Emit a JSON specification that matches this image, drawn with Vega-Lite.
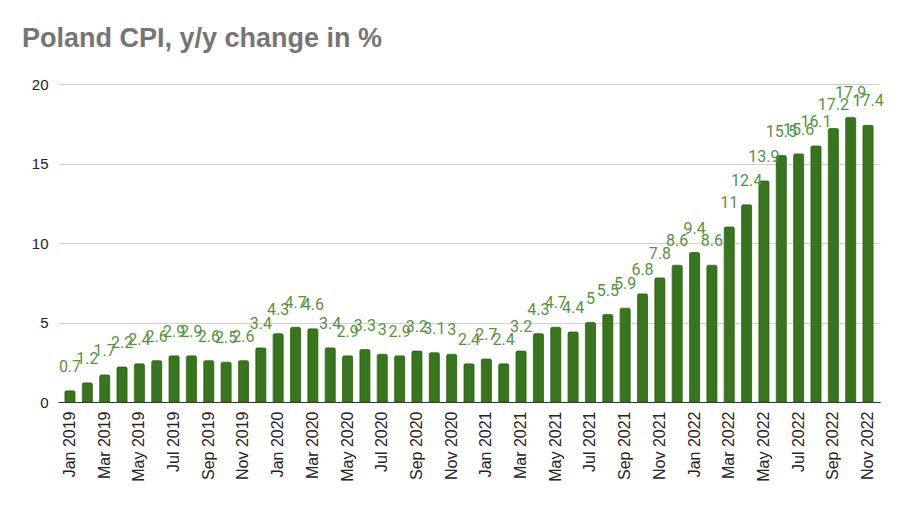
{
  "$schema": "https://vega.github.io/schema/vega-lite/v6.json",
  "width": 822,
  "height": 318,
  "autosize": {"type": "none"},
  "padding": {"left": 58, "top": 84, "right": 20, "bottom": 108},
  "background": "white",
  "view": {"stroke": null},
  "title": {
    "text": "Poland CPI, y/y change in %",
    "anchor": "start",
    "frame": "group",
    "dx": -36,
    "offset": 3,
    "baseline": "alphabetic",
    "font": "Liberation Sans",
    "fontSize": 27,
    "fontWeight": "bold",
    "color": "#757575"
  },
  "data": {
    "values": [
      {"month": "Jan 2019", "cpi": 0.7}, {"month": "Feb 2019", "cpi": 1.2},
      {"month": "Mar 2019", "cpi": 1.7}, {"month": "Apr 2019", "cpi": 2.2},
      {"month": "May 2019", "cpi": 2.4}, {"month": "Jun 2019", "cpi": 2.6},
      {"month": "Jul 2019", "cpi": 2.9}, {"month": "Aug 2019", "cpi": 2.9},
      {"month": "Sep 2019", "cpi": 2.6}, {"month": "Oct 2019", "cpi": 2.5},
      {"month": "Nov 2019", "cpi": 2.6}, {"month": "Dec 2019", "cpi": 3.4},
      {"month": "Jan 2020", "cpi": 4.3}, {"month": "Feb 2020", "cpi": 4.7},
      {"month": "Mar 2020", "cpi": 4.6}, {"month": "Apr 2020", "cpi": 3.4},
      {"month": "May 2020", "cpi": 2.9}, {"month": "Jun 2020", "cpi": 3.3},
      {"month": "Jul 2020", "cpi": 3}, {"month": "Aug 2020", "cpi": 2.9},
      {"month": "Sep 2020", "cpi": 3.2}, {"month": "Oct 2020", "cpi": 3.1},
      {"month": "Nov 2020", "cpi": 3}, {"month": "Dec 2020", "cpi": 2.4},
      {"month": "Jan 2021", "cpi": 2.7}, {"month": "Feb 2021", "cpi": 2.4},
      {"month": "Mar 2021", "cpi": 3.2}, {"month": "Apr 2021", "cpi": 4.3},
      {"month": "May 2021", "cpi": 4.7}, {"month": "Jun 2021", "cpi": 4.4},
      {"month": "Jul 2021", "cpi": 5}, {"month": "Aug 2021", "cpi": 5.5},
      {"month": "Sep 2021", "cpi": 5.9}, {"month": "Oct 2021", "cpi": 6.8},
      {"month": "Nov 2021", "cpi": 7.8}, {"month": "Dec 2021", "cpi": 8.6},
      {"month": "Jan 2022", "cpi": 9.4}, {"month": "Feb 2022", "cpi": 8.6},
      {"month": "Mar 2022", "cpi": 11}, {"month": "Apr 2022", "cpi": 12.4},
      {"month": "May 2022", "cpi": 13.9}, {"month": "Jun 2022", "cpi": 15.5},
      {"month": "Jul 2022", "cpi": 15.6}, {"month": "Aug 2022", "cpi": 16.1},
      {"month": "Sep 2022", "cpi": 17.2}, {"month": "Oct 2022", "cpi": 17.9},
      {"month": "Nov 2022", "cpi": 17.4}
    ]
  },
  "encoding": {
    "x": {
      "field": "month",
      "type": "nominal",
      "sort": null,
      "title": null,
      "scale": {"paddingInner": 0.42, "paddingOuter": 0.4},
      "axis": {
        "labelAngle": 270,
        "labelAlign": "right",
        "labelBaseline": "middle",
        "labelPadding": 9,
        "labelFont": "Liberation Sans",
        "labelFontSize": 16,
        "labelColor": "#222222",
        "labelExpr": "test(/^(Jan|Mar|May|Jul|Sep|Nov)/, datum.label) ? datum.label : ''",
        "labelOverlap": false,
        "ticks": false,
        "domainColor": "#333333",
        "domainWidth": 1.2,
        "grid": false
      }
    },
    "y": {
      "field": "cpi",
      "type": "quantitative",
      "title": null,
      "scale": {"domain": [0, 20], "nice": false},
      "axis": {
        "values": [0, 5, 10, 15, 20],
        "labelFont": "Liberation Sans",
        "labelFontSize": 15,
        "labelColor": "#222222",
        "labelPadding": 10,
        "ticks": false,
        "domain": false,
        "gridColor": "#d0d0d0",
        "gridWidth": 1
      }
    }
  },
  "layer": [
    {
      "mark": {
        "type": "bar",
        "color": "#38761d",
        "stroke": "#2d6215",
        "strokeWidth": 0.8,
        "cornerRadiusEnd": 1.5
      }
    },
    {
      "mark": {
        "type": "text",
        "baseline": "middle",
        "dy": -24,
        "font": "Roboto",
        "fontSize": 16,
        "color": "#55923f"
      },
      "encoding": {
        "text": {"field": "cpi", "type": "quantitative"}
      }
    }
  ]
}
